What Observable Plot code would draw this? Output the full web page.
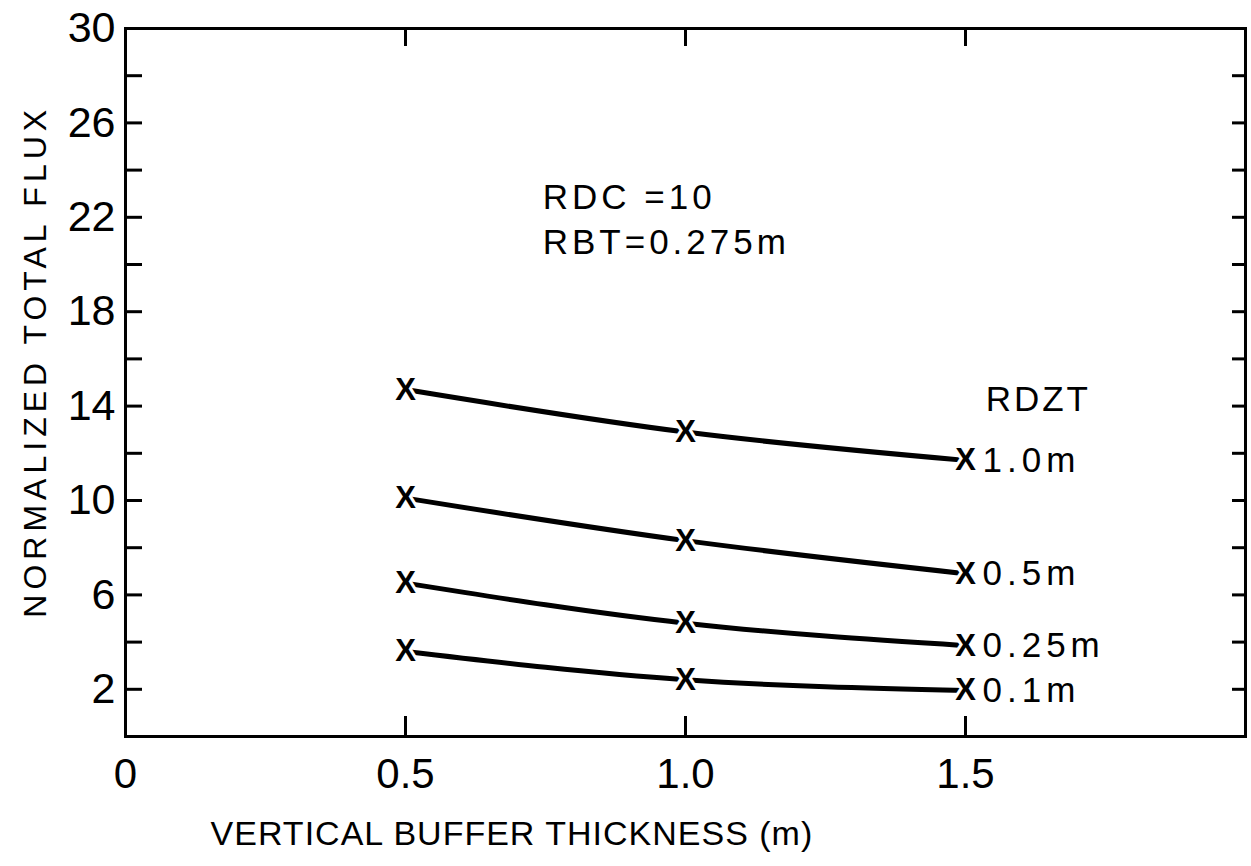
<!DOCTYPE html>
<html>
<head>
<meta charset="utf-8">
<script src="https://cdn.jsdelivr.net/npm/d3@7"></script>
<script src="https://cdn.jsdelivr.net/npm/@observablehq/plot@0.6"></script>
<style>
  html, body { margin: 0; padding: 0; background: #fff; }
  #chart svg { display: block; }
</style>
</head>
<body>
<div id="chart"></div>
<script>
// ---- data ----
const thickness = [0.5, 1.0, 1.5];                 // vertical buffer thickness (m)
const seriesNames = ["1.0m", "0.5m", "0.25m", "0.1m"]; // RDZT
const flux_1_0  = [14.7, 12.9, 11.7];
const flux_0_5  = [10.1, 8.3, 6.9];
const flux_0_25 = [6.5, 4.8, 3.85];
const flux_0_1  = [3.6, 2.4, 1.95];
const xTicks = [0, 0.5, 1.0, 1.5];
const xTickLabels = ["0", "0.5", "1.0", "1.5"];
const yLabelTicks = [2, 6, 10, 14, 18, 22, 26, 30];
const yMinorTicks = [2, 4, 6, 8, 10, 12, 14, 16, 18, 20, 22, 24, 26, 28];
const annotationLines = ["RDC =10", "RBT=0.275m"];
const legendTitle = "RDZT";
const xLabel = "VERTICAL BUFFER THICKNESS (m)";
const yLabel = "NORMALIZED TOTAL FLUX";
const markerGlyph = "X";

// ---- build table ----
const seriesValues = [flux_1_0, flux_0_5, flux_0_25, flux_0_1];
const rows = seriesNames.flatMap((s, i) =>
  thickness.map((t, j) => ({series: s, x: t, y: seriesValues[i][j]})));
const endRows = seriesNames.map((s, i) => ({series: s, x: thickness[thickness.length - 1], y: seriesValues[i][thickness.length - 1]}));

const font = "'Liberation Sans', Arial, Helvetica, sans-serif";

const chart = Plot.plot({
  width: 1251,
  height: 866,
  marginLeft: 125,
  marginRight: 6,
  marginTop: 28,
  marginBottom: 130,
  x: {domain: [0, 2]},
  y: {domain: [0, 30]},
  style: {fontFamily: font, color: "black", background: "white"},
  marks: [
    Plot.frame({strokeWidth: 3, stroke: "black"}),
    // inward ticks
    Plot.axisX(xTicks.slice(1), {anchor: "bottom", tickSize: -20, strokeWidth: 3, tickFormat: () => "", label: null}),
    Plot.axisX(xTicks.slice(1), {anchor: "top", tickSize: -17, strokeWidth: 3, tickFormat: () => "", label: null}),
    Plot.axisY(yMinorTicks, {anchor: "left", tickSize: -17, strokeWidth: 3, tickFormat: () => "", label: null}),
    Plot.axisY(yMinorTicks, {anchor: "right", tickSize: -14, strokeWidth: 3, tickFormat: () => "", label: null}),
    // tick labels
    Plot.axisX(xTicks, {anchor: "bottom", tickSize: 0, tickPadding: 22, fontSize: 42,
      tickFormat: d => xTickLabels[xTicks.indexOf(d)], label: null}),
    Plot.axisY(yLabelTicks, {anchor: "left", tickSize: 0, tickPadding: 10, fontSize: 43, label: null}),
    // curves
    Plot.line(rows, {x: "x", y: "y", z: "series", curve: "natural", stroke: "black", strokeWidth: 5}),
    // X markers with white halo so the curves stop short of them
    Plot.text(rows, {x: "x", y: "y", text: () => markerGlyph, fontSize: 31, fontWeight: "bold", fill: "black",
      stroke: "white", strokeWidth: 6}),
    // series labels
    Plot.text(endRows, {x: "x", y: "y", text: "series", dx: 17, textAnchor: "start", fontSize: 35, fill: "black"}),
    // legend title
    Plot.text([legendTitle], {x: 1.536, y: 13.79, text: d => d, textAnchor: "start", lineAnchor: "bottom", fontSize: 35, fill: "black"}),
    // annotation
    Plot.text([annotationLines.join("\n")], {x: 0.745, y: 23.72, text: d => d, textAnchor: "start", lineAnchor: "top",
      lineHeight: 1.29, fontSize: 35, fill: "black"}),
    // axis titles
    Plot.text([xLabel], {x: 0.69, frameAnchor: "bottom", dy: 108, text: d => d, textAnchor: "middle", fontSize: 34, fill: "black"}),
    Plot.text([yLabel], {y: 15.9, frameAnchor: "left", dx: -90, rotate: -90, text: d => d, textAnchor: "middle",
      lineAnchor: "middle", fontSize: 32, fill: "black"})
  ]
});

document.getElementById("chart").appendChild(chart);

// letter spacing to mimic the lettering-guide look
const spacing = new Map([
  [yLabel, "5px"],
  [xLabel, "1px"],
  [legendTitle, "3px"],
  [annotationLines.join(""), "4px"],
  ...seriesNames.map(s => [s, "5px"])
]);
d3.select(chart).selectAll("text").each(function() {
  const t = this.textContent;
  if (spacing.has(t)) d3.select(this).attr("letter-spacing", spacing.get(t));
});
</script>
</body>
</html>
